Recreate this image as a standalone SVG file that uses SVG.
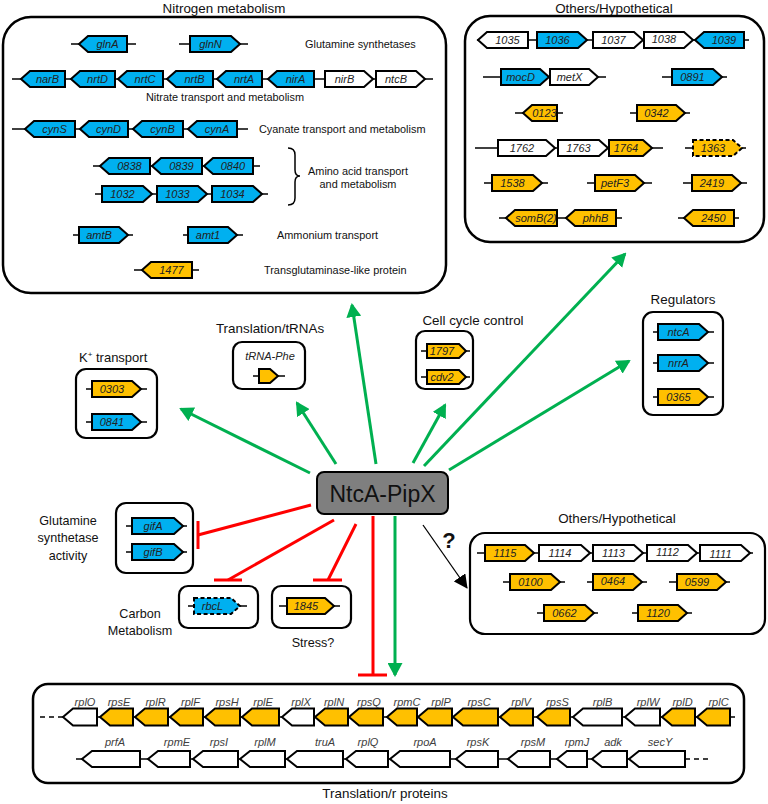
<svg xmlns="http://www.w3.org/2000/svg" width="768" height="804" viewBox="0 0 768 804">
<style>
text{font-family:"Liberation Sans",Arial,sans-serif;}
.box{fill:#fff;stroke:#000;stroke-width:2.5}
.sb{fill:#fff;stroke:#000;stroke-width:2.2}
.g{stroke:#000;stroke-width:2;stroke-linejoin:miter}
.c{fill:#00B0F0}.o{fill:#FFC000}.w{fill:#fff}
.d{stroke-dasharray:4,2.5}
.bb{stroke:#000;stroke-width:1.5;fill:none}
.t{font-size:11px;font-style:italic;text-anchor:middle;fill:#222}
.tb{font-size:11px;font-style:italic;text-anchor:middle;fill:#404040}
.cat{font-size:10.9px;fill:#111}
.ttl{font-size:13.4px;text-anchor:middle;fill:#111}
.lab{font-size:12.6px;text-anchor:middle;fill:#111}
.act{stroke:#00B050;stroke-width:3;fill:none;marker-end:url(#ga)}
.inh{stroke:#FF0000;stroke-width:3;fill:none}
</style>
<defs>
<marker id="ga" viewBox="0 0 14 15" refX="12" refY="7.5" markerWidth="14" markerHeight="15" markerUnits="userSpaceOnUse" orient="auto"><path d="M0,0 L14,7.5 L0,15 z" fill="#00B050"/></marker>
<marker id="ka" viewBox="0 0 14 14" refX="13" refY="7" markerWidth="14" markerHeight="14" markerUnits="userSpaceOnUse" orient="auto"><path d="M0,0 L14,7 L0,14 z" fill="#000"/></marker>
</defs>

<g id="connectors">
<line class="act" x1="310" y1="473" x2="181" y2="409"/>
<line class="act" x1="336" y1="464" x2="297" y2="403"/>
<line class="act" x1="376" y1="464" x2="352" y2="305"/>
<line class="act" x1="413" y1="463" x2="445" y2="405"/>
<line class="act" x1="424" y1="466" x2="625" y2="254"/>
<line class="act" x1="449" y1="470" x2="629" y2="361"/>
<line class="act" x1="395" y1="516" x2="395" y2="675"/>
<line class="inh" x1="311" y1="505" x2="198" y2="535"/><line class="inh" x1="198" y1="521" x2="198" y2="549"/>
<line class="inh" x1="334" y1="520" x2="228" y2="580"/><line class="inh" x1="214" y1="580" x2="242" y2="580"/>
<line class="inh" x1="356" y1="524" x2="328" y2="580"/><line class="inh" x1="313" y1="580" x2="342" y2="580"/>
<line class="inh" x1="373" y1="516" x2="373" y2="675"/><line class="inh" x1="358" y1="675" x2="387" y2="675"/>
<line x1="423" y1="525" x2="467" y2="588" stroke="#000" stroke-width="1.3" marker-end="url(#ka)"/>
<text x="449" y="548" font-size="22" font-weight="bold" text-anchor="middle" fill="#111">?</text>
</g>

<g id="center">
<rect x="317" y="472" width="131" height="42" rx="7" fill="#7f7f7f" stroke="#000" stroke-width="2"/>
<text x="382.5" y="502" font-size="23" text-anchor="middle" fill="#111">NtcA-PipX</text>
</g>

<g id="nitrogen">
<text class="ttl" x="224" y="13">Nitrogen metabolism</text>
<rect class="box" x="3" y="17" width="443" height="276" rx="28"/>
<line class="bb" x1="71" y1="44" x2="136" y2="44"/>
<line class="bb" x1="179" y1="44" x2="248" y2="44"/>
<polygon class="g c" points="79,44 88,36 127,36 127,52 88,52"/><text class="t" x="107.5" y="48">glnA</text>
<polygon class="g c" points="190,36 231,36 240,44 231,52 190,52"/><text class="t" x="210.5" y="48">glnN</text>
<text class="cat" x="305" y="48">Glutamine synthetases</text>
<line class="bb" x1="12" y1="79" x2="433" y2="79"/>
<polygon class="g c" points="21,79 30,71 65,71 65,87 30,87"/><text class="t" x="47.5" y="83">narB</text>
<polygon class="g c" points="71,79 80,71 115,71 115,87 80,87"/><text class="t" x="97.5" y="83">nrtD</text>
<polygon class="g c" points="118,79 127,71 163,71 163,87 127,87"/><text class="t" x="145" y="83">nrtC</text>
<polygon class="g c" points="167,79 176,71 213,71 213,87 176,87"/><text class="t" x="194.5" y="83">nrtB</text>
<polygon class="g c" points="217,79 226,71 262,71 262,87 226,87"/><text class="t" x="244" y="83">nrtA</text>
<polygon class="g c" points="268,79 277,71 314,71 314,87 277,87"/><text class="t" x="295.5" y="83">nirA</text>
<polygon class="g w" points="325,71 364,71 373,79 364,87 325,87"/><text class="t" x="344.5" y="83">nirB</text>
<polygon class="g w" points="376,71 416,71 425,79 416,87 376,87"/><text class="t" x="396" y="83">ntcB</text>
<text class="cat" x="225" y="101" text-anchor="middle">Nitrate transport and metabolism</text>
<line class="bb" x1="12" y1="129" x2="248" y2="129"/>
<polygon class="g c" points="25,129 34,121 75,121 75,137 34,137"/><text class="t" x="54.5" y="133">cynS</text>
<polygon class="g c" points="80,129 89,121 128,121 128,137 89,137"/><text class="t" x="108.5" y="133">cynD</text>
<polygon class="g c" points="133,129 142,121 183,121 183,137 142,137"/><text class="t" x="162.5" y="133">cynB</text>
<polygon class="g c" points="188,129 197,121 237,121 237,137 197,137"/><text class="t" x="217" y="133">cynA</text>
<text class="cat" x="259" y="133">Cyanate transport and metabolism</text>
<line class="bb" x1="93" y1="166" x2="260" y2="166"/>
<polygon class="g c" points="100,166 109,158 150,158 150,174 109,174"/><text class="t" x="129.5" y="170">0838</text>
<polygon class="g c" points="152,166 161,158 202,158 202,174 161,174"/><text class="t" x="181.5" y="170">0839</text>
<polygon class="g c" points="204,166 213,158 253,158 253,174 213,174"/><text class="t" x="233" y="170">0840</text>
<line class="bb" x1="95" y1="194" x2="268" y2="194"/>
<polygon class="g c" points="102,186 143,186 152,194 143,202 102,202"/><text class="t" x="122.5" y="198">1032</text>
<polygon class="g c" points="157,186 198,186 207,194 198,202 157,202"/><text class="t" x="177.5" y="198">1033</text>
<polygon class="g c" points="212,186 253,186 262,194 253,202 212,202"/><text class="t" x="232.5" y="198">1034</text>
<path d="M288,148 Q295,148 295,155 L295,170 Q295,176 300,176 Q295,176 295,182 L295,198 Q295,205 288,205" fill="none" stroke="#000" stroke-width="1.5"/>
<text class="cat" x="358" y="175" text-anchor="middle">Amino acid  transport</text>
<text class="cat" x="358" y="188" text-anchor="middle">and metabolism</text>
<line class="bb" x1="73" y1="235" x2="133" y2="235"/>
<line class="bb" x1="183" y1="235" x2="243" y2="235"/>
<polygon class="g c" points="79,227 119,227 128,235 119,243 79,243"/><text class="t" x="99" y="239">amtB</text>
<polygon class="g c" points="188,227 228,227 237,235 228,243 188,243"/><text class="t" x="208" y="239">amt1</text>
<text class="cat" x="277" y="239">Ammonium  transport</text>
<line class="bb" x1="134" y1="270" x2="199" y2="270"/>
<polygon class="g o" points="142,270 151,262 192,262 192,278 151,278"/><text class="t" x="171.5" y="274">1477</text>
<text class="cat" x="264" y="274">Transglutaminase-like protein</text>
</g>

<g id="others-top">
<text class="ttl" x="614" y="13">Others/Hypothetical</text>
<rect class="box" x="465" y="16" width="299" height="226" rx="25"/>
<line class="bb" x1="477" y1="40" x2="749" y2="40"/>
<polygon class="g w" points="478,40 487,32 528,32 528,48 487,48"/><text class="t" x="507.5" y="44">1035</text>
<polygon class="g c" points="537,32 578,32 587,40 578,48 537,48"/><text class="t" x="557.5" y="44">1036</text>
<polygon class="g w" points="593,32 634,32 643,40 634,48 593,48"/><text class="t" x="613.5" y="44">1037</text>
<polygon class="g w" points="644,32 684,32 693,40 684,48 644,48"/><text class="t" x="664" y="43">1038</text>
<polygon class="g c" points="695,40 704,32 744,32 744,48 704,48"/><text class="t" x="724" y="44">1039</text>
<line class="bb" x1="483" y1="77" x2="606" y2="77"/>
<polygon class="g c" points="501,69 540,69 549,77 540,85 501,85"/><text class="t" x="520.5" y="81">mocD</text>
<polygon class="g w" points="550,69 589,69 598,77 589,85 550,85"/><text class="t" x="569.5" y="81">metX</text>
<line class="bb" x1="662" y1="77" x2="727" y2="77"/>
<polygon class="g c" points="672,69 713,69 722,77 713,85 672,85"/><text class="t" x="692.5" y="81">0891</text>
<line class="bb" x1="515" y1="113" x2="563" y2="113"/>
<polygon class="g o" points="523,113 532,105 557,105 557,121 532,121"/><text class="t" x="544.5" y="117">0123</text>
<line class="bb" x1="630" y1="113" x2="690" y2="113"/>
<polygon class="g o" points="637,105 676,105 685,113 676,121 637,121"/><text class="t" x="656.5" y="117">0342</text>
<line class="bb" x1="475" y1="148" x2="663" y2="148"/>
<polygon class="g w" points="498,140 546,140 555,148 546,156 498,156"/><text class="t" x="522" y="152">1762</text>
<polygon class="g w" points="558,140 599,140 608,148 599,156 558,156"/><text class="t" x="578.5" y="152">1763</text>
<polygon class="g o" points="609,140 643,140 652,148 643,156 609,156"/><text class="t" x="626" y="152">1764</text>
<line class="bb" x1="685" y1="148" x2="746" y2="148"/>
<polygon class="g o d" points="693,140 733,140 742,148 733,156 693,156"/><text class="t" x="713" y="152">1363</text>
<line class="bb" x1="484" y1="183" x2="548" y2="183"/>
<polygon class="g o" points="492,175 533,175 542,183 533,191 492,191"/><text class="t" x="512.5" y="187">1538</text>
<line class="bb" x1="587" y1="183" x2="652" y2="183"/>
<polygon class="g o" points="595,175 635,175 644,183 635,191 595,191"/><text class="t" x="615" y="187">petF3</text>
<line class="bb" x1="683" y1="183" x2="747" y2="183"/>
<polygon class="g o" points="692,175 732,175 741,183 732,191 692,191"/><text class="t" x="712" y="187">2419</text>
<line class="bb" x1="499" y1="218" x2="622" y2="218"/>
<polygon class="g o" points="506,218 515,210 557,210 557,226 515,226"/><text class="t" x="536" y="222" font-size="10">somB(2)</text>
<polygon class="g o" points="566,218 575,210 616,210 616,226 575,226"/><text class="t" x="595.5" y="222">phhB</text>
<line class="bb" x1="678" y1="218" x2="739" y2="218"/>
<polygon class="g o" points="684,218 693,210 734,210 734,226 693,226"/><text class="t" x="713.5" y="222">2450</text>
</g>

<g id="regulators">
<text class="ttl" x="683" y="304" font-size="13">Regulators</text>
<rect class="sb" x="643" y="312" width="80" height="103" rx="10"/>
<line class="bb" x1="653" y1="332" x2="714" y2="332"/>
<polygon class="g c" points="658,324 699,324 708,332 699,340 658,340"/><text class="t" x="678.5" y="336">ntcA</text>
<line class="bb" x1="653" y1="363" x2="714" y2="363"/>
<polygon class="g c" points="658,355 699,355 708,363 699,371 658,371"/><text class="t" x="678.5" y="367">nrrA</text>
<line class="bb" x1="653" y1="397" x2="714" y2="397"/>
<polygon class="g o" points="658,389 699,389 708,397 699,405 658,405"/><text class="t" x="678.5" y="401">0365</text>
</g>

<g id="k-transport">
<text x="79" y="362" font-size="13" fill="#111">K<tspan font-size="8" dy="-5">+</tspan><tspan dy="5"> transport</tspan></text>
<rect class="sb" x="76" y="369" width="81" height="69" rx="10"/>
<line class="bb" x1="86" y1="389" x2="147" y2="389"/>
<polygon class="g o" points="92,381 132,381 141,389 132,397 92,397"/><text class="t" x="112" y="393">0303</text>
<line class="bb" x1="86" y1="422" x2="147" y2="422"/>
<polygon class="g c" points="92,414 132,414 141,422 132,430 92,430"/><text class="t" x="112" y="426">0841</text>
</g>

<g id="trna">
<text class="ttl" x="270" y="333" font-size="13">Translation/tRNAs</text>
<rect class="sb" x="233" y="342" width="72" height="47" rx="9"/>
<text class="t" x="270" y="360">tRNA-Phe</text>
<line class="bb" x1="253" y1="376" x2="285" y2="376"/>
<polygon class="g o" points="259,369 270,369 278,376 270,383 259,383"/>
</g>

<g id="cell-cycle">
<text class="ttl" x="473" y="325" font-size="13">Cell cycle control</text>
<rect class="sb" x="416" y="331" width="57" height="58" rx="9"/>
<line class="bb" x1="421" y1="351" x2="470" y2="351"/>
<polygon class="g o" points="427,344 459,344 466,351 459,358 427,358"/><text class="t" x="442" y="355" font-size="10">1797</text>
<line class="bb" x1="421" y1="377" x2="470" y2="377"/>
<polygon class="g o" points="427,370 459,370 466,377 459,384 427,384"/><text class="t" x="442" y="381" font-size="10">cdv2</text>
</g>

<g id="gs-activity">
<text class="lab" x="68" y="525">Glutamine</text>
<text class="lab" x="68" y="542">synthetase</text>
<text class="lab" x="68" y="560">activity</text>
<rect class="sb" x="116" y="503" width="77" height="70" rx="10"/>
<line class="bb" x1="126" y1="526" x2="187" y2="526"/>
<polygon class="g c" points="132,518 174,518 183,526 174,534 132,534"/><text class="t" x="153" y="530">gifA</text>
<line class="bb" x1="126" y1="552" x2="187" y2="552"/>
<polygon class="g c" points="132,544 174,544 183,552 174,560 132,560"/><text class="t" x="153" y="556">gifB</text>
</g>

<g id="carbon">
<text class="lab" x="140" y="618">Carbon</text>
<text class="lab" x="140" y="635">Metabolism</text>
<rect class="sb" x="179" y="586" width="79" height="42" rx="9"/>
<line class="bb" x1="188" y1="606" x2="247" y2="606"/>
<polygon class="g c d" points="194,598 231,598 240,606 231,614 194,614"/><text class="t" x="212.5" y="610">rbcL</text>
</g>

<g id="stress">
<rect class="sb" x="272" y="586" width="79" height="42" rx="9"/>
<line class="bb" x1="279" y1="606" x2="340" y2="606"/>
<polygon class="g o" points="287,598 325,598 334,606 325,614 287,614"/><text class="t" x="306" y="610">1845</text>
<text class="lab" x="313" y="647">Stress?</text>
</g>

<g id="others-bottom">
<text class="ttl" x="617" y="523">Others/Hypothetical</text>
<rect class="sb" x="470" y="533" width="295" height="101" rx="15"/>
<line class="bb" x1="477" y1="553" x2="753" y2="553"/>
<polygon class="g o" points="485,545 525,545 534,553 525,561 485,561"/><text class="t" x="505" y="557">1115</text>
<polygon class="g w" points="539,545 581,545 590,553 581,561 539,561"/><text class="t" x="560" y="557">1114</text>
<polygon class="g w" points="593,545 634,545 643,553 634,561 593,561"/><text class="t" x="613.5" y="557">1113</text>
<polygon class="g w" points="647,545 688,545 697,553 688,561 647,561"/><text class="t" x="667.5" y="556">1112</text>
<polygon class="g w" points="700,545 741,545 750,553 741,561 700,561"/><text class="t" x="720.5" y="558">1111</text>
<line class="bb" x1="503" y1="582" x2="565" y2="582"/>
<polygon class="g o" points="510,574 551,574 560,582 551,590 510,590"/><text class="t" x="530.5" y="586">0100</text>
<line class="bb" x1="587" y1="582" x2="647" y2="582"/>
<polygon class="g o" points="593,574 633,574 642,582 633,590 593,590"/><text class="t" x="613" y="585">0464</text>
<line class="bb" x1="669" y1="582" x2="730" y2="582"/>
<polygon class="g o" points="677,574 717,574 726,582 717,590 677,590"/><text class="t" x="697" y="586">0599</text>
<line class="bb" x1="537" y1="613" x2="598" y2="613"/>
<polygon class="g o" points="544,605 585,605 594,613 585,621 544,621"/><text class="t" x="564.5" y="617">0662</text>
<line class="bb" x1="632" y1="613" x2="692" y2="613"/>
<polygon class="g o" points="638,605 678,605 687,613 678,621 638,621"/><text class="t" x="658" y="617">1120</text>
</g>

<g id="ribosomal">
<rect class="box" x="33" y="684" width="711" height="99" rx="15"/>
<text class="ttl" x="385" y="798">Translation/r proteins</text>
<line class="bb" x1="40" y1="717" x2="62" y2="717" stroke-dasharray="5,4"/>
<line class="bb" x1="62" y1="717" x2="735" y2="717"/>
<polygon class="g w" points="63,717 73,708.5 97,708.5 97,725.5 73,725.5"/><text class="tb" x="85" y="706">rplO</text>
<polygon class="g o" points="100,717 110,708.5 133,708.5 133,725.5 110,725.5"/><text class="tb" x="119" y="706">rpsE</text>
<polygon class="g o" points="135,717 145,708.5 168,708.5 168,725.5 145,725.5"/><text class="tb" x="155.5" y="706">rplR</text>
<polygon class="g o" points="170,717 180,708.5 203,708.5 203,725.5 180,725.5"/><text class="tb" x="190.5" y="706">rplF</text>
<polygon class="g o" points="205,717 215,708.5 240,708.5 240,725.5 215,725.5"/><text class="tb" x="227" y="706">rpsH</text>
<polygon class="g o" points="242,717 252,708.5 279,708.5 279,725.5 252,725.5"/><text class="tb" x="263" y="706">rplE</text>
<polygon class="g w" points="282,717 292,708.5 314,708.5 314,725.5 292,725.5"/><text class="tb" x="301" y="706">rplX</text>
<polygon class="g o" points="315,717 325,708.5 348,708.5 348,725.5 325,725.5"/><text class="tb" x="334" y="706">rplN</text>
<polygon class="g o" points="349,717 359,708.5 383,708.5 383,725.5 359,725.5"/><text class="tb" x="369" y="706">rpsQ</text>
<polygon class="g o" points="387,717 397,708.5 417,708.5 417,725.5 397,725.5"/><text class="tb" x="407" y="706">rpmC</text>
<polygon class="g o" points="418,717 428,708.5 452,708.5 452,725.5 428,725.5"/><text class="tb" x="441" y="706">rplP</text>
<polygon class="g o" points="453,717 463,708.5 498,708.5 498,725.5 463,725.5"/><text class="tb" x="479" y="706">rpsC</text>
<polygon class="g o" points="500,717 510,708.5 533,708.5 533,725.5 510,725.5"/><text class="tb" x="521" y="706">rplV</text>
<polygon class="g o" points="537,717 547,708.5 570,708.5 570,725.5 547,725.5"/><text class="tb" x="557.5" y="706">rpsS</text>
<polygon class="g w" points="573,717 583,708.5 622,708.5 622,725.5 583,725.5"/><text class="tb" x="602.5" y="706">rplB</text>
<polygon class="g w" points="625,717 635,708.5 660,708.5 660,725.5 635,725.5"/><text class="tb" x="648" y="706">rplW</text>
<polygon class="g o" points="662,717 672,708.5 695,708.5 695,725.5 672,725.5"/><text class="tb" x="682.5" y="706">rplD</text>
<polygon class="g o" points="697,717 707,708.5 730,708.5 730,725.5 707,725.5"/><text class="tb" x="718.5" y="706">rplC</text>
<line class="bb" x1="76" y1="759" x2="685" y2="759"/>
<line class="bb" x1="685" y1="759" x2="712" y2="759" stroke-dasharray="5,4"/>
<polygon class="g w" points="82,759 92,751 140,751 140,767 92,767"/><text class="tb" x="115" y="746">prfA</text>
<polygon class="g w" points="148,759 158,751 190,751 190,767 158,767"/><text class="tb" x="177" y="746">rpmE</text>
<polygon class="g w" points="193,759 203,751 238,751 238,767 203,767"/><text class="tb" x="219" y="746">rpsI</text>
<polygon class="g w" points="240,759 250,751 285,751 285,767 250,767"/><text class="tb" x="265" y="746">rplM</text>
<polygon class="g w" points="287,759 297,751 343,751 343,767 297,767"/><text class="tb" x="325" y="746">truA</text>
<polygon class="g w" points="346,759 356,751 388,751 388,767 356,767"/><text class="tb" x="368" y="746">rplQ</text>
<polygon class="g w" points="390,759 400,751 450,751 450,767 400,767"/><text class="tb" x="425" y="746">rpoA</text>
<polygon class="g w" points="456,759 466,751 498,751 498,767 466,767"/><text class="tb" x="478" y="746">rpsK</text>
<polygon class="g w" points="508,759 518,751 550,751 550,767 518,767"/><text class="tb" x="533" y="746">rpsM</text>
<polygon class="g w" points="557,759 567,751 587,751 587,767 567,767"/><text class="tb" x="577" y="746">rpmJ</text>
<polygon class="g w" points="592,759 602,751 627,751 627,767 602,767"/><text class="tb" x="613" y="746">adk</text>
<polygon class="g w" points="629,759 639,751 685,751 685,767 639,767"/><text class="tb" x="660" y="746">secY</text>
</g>
</svg>
